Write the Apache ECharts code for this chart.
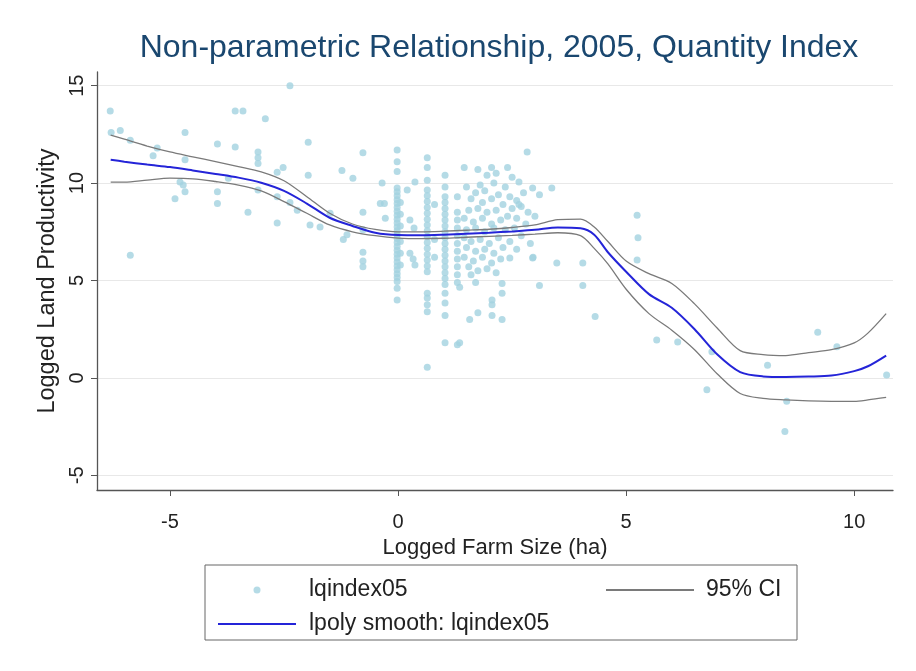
<!DOCTYPE html>
<html>
<head>
<meta charset="utf-8">
<script src="https://cdn.jsdelivr.net/npm/echarts@6/dist/echarts.min.js"></script>
<style>html,body{margin:0;padding:0;background:#fff;}#c{width:916px;height:671px;}</style>
</head>
<body>
<div id="c"></div>
<script>
const titleText = 'Non-parametric Relationship, 2005, Quantity Index';
const xName = 'Logged Farm Size (ha)';
const yName = 'Logged Land Productivity';
const xTicks = [-5, 0, 5, 10];
const yTicks = [-5, 0, 5, 10, 15];
const scatterName = 'lqindex05';
const smoothName = 'lpoly smooth: lqindex05';
const ciName = '95% CI';

// scatter observations [logged farm size, logged land productivity]
const pointsLeft = [
  [-6.31,13.7],[-6.29,12.6],[-6.09,12.7],[-5.87,12.2],[-5.87,6.3],[-5.28,11.8],[-5.37,11.4],
  [-4.67,12.6],[-4.67,11.2],[-4.78,10.05],[-4.71,9.9],[-4.67,9.55],[-4.89,9.2],
  [-3.96,12.0],[-3.96,9.55],[-3.96,8.95],[-3.72,10.25],[-3.57,11.85],[-3.57,13.7],[-3.4,13.7],
  [-3.29,8.5],[-3.07,11.6],[-3.07,11.3],[-3.07,11.0],[-3.07,9.65],[-2.91,13.3],
  [-2.65,10.55],[-2.52,10.8],[-2.65,9.3],[-2.65,7.95],[-2.37,15.0],[-2.37,9.0],[-2.21,8.6],
  [-1.97,12.1],[-1.97,10.4],[-1.93,7.85],[-1.71,7.75],[-1.49,8.45],[-1.23,10.65],[-1.2,7.1],
  [-1.12,7.35],[-0.99,10.25],[-0.77,11.55],[-0.77,8.5],[-0.77,7.6],[-0.77,6.45],[-0.77,6.0],
  [-0.77,5.7],[-0.35,10.0],[-0.39,8.95],[-0.3,8.95],[-0.28,8.2]
];
const pointsCluster = [
  [-0.02,11.7],[-0.02,11.1],[-0.02,10.6],[-0.02,9.75],[-0.02,9.55],[-0.02,9.35],[-0.02,9.15],
  [-0.02,8.95],[-0.02,8.75],[-0.02,8.55],[-0.02,8.35],[-0.02,8.15],[-0.02,7.95],[-0.02,7.75],
  [-0.02,7.55],[-0.02,7.35],[-0.02,7.15],[-0.02,6.95],[-0.02,6.75],[-0.02,6.55],[-0.02,6.35],
  [-0.02,6.15],[-0.02,5.95],[-0.02,5.75],[-0.02,5.55],[-0.02,5.35],[-0.02,5.15],[-0.02,4.95],
  [-0.02,4.6],[-0.02,4.0],[0.05,9.0],[0.05,8.4],[0.05,7.8],[0.05,7.0],[0.05,6.4],[0.05,5.8],
  [0.2,9.65],[0.37,10.05],[0.26,8.1],[0.35,7.7],[0.26,6.4],[0.37,5.8],[0.33,6.1],
  [0.64,11.3],[0.64,10.8],[0.64,10.15],[0.64,9.65],[0.64,9.35],[0.64,9.05],[0.64,8.75],
  [0.64,8.45],[0.64,8.15],[0.64,7.85],[0.64,7.55],[0.64,7.25],[0.64,6.95],[0.64,6.65],
  [0.64,6.35],[0.64,6.05],[0.64,5.75],[0.64,5.45],[0.64,4.35],[0.64,4.1],[0.64,3.75],
  [0.64,3.4],[0.64,0.55],[0.8,8.9],[0.8,7.1],[0.8,6.2],
  [1.03,10.4],[1.03,9.8],[1.03,9.3],[1.03,9.0],[1.03,8.7],[1.03,8.4],[1.03,8.1],[1.03,7.8],
  [1.03,7.5],[1.03,7.2],[1.03,6.9],[1.03,6.6],[1.03,6.3],[1.03,6.0],[1.03,5.7],[1.03,5.4],
  [1.03,5.1],[1.03,4.8],[1.03,4.35],[1.03,3.85],[1.03,3.2],[1.03,1.8],
  [1.3,9.3],[1.3,8.5],[1.3,8.1],[1.3,7.7],[1.3,7.3],[1.3,6.9],[1.3,6.5],[1.3,6.1],[1.3,5.7],
  [1.3,5.3],[1.3,4.9],[1.3,1.7],
  [1.45,10.8],[1.75,10.7],[2.05,10.8],[2.4,10.8],[1.95,10.4],[2.15,10.5],[2.5,10.3],[2.65,10.05],
  [1.5,9.8],[1.8,9.9],[2.1,10.0],[2.35,9.8],[2.75,9.5],[2.95,9.75],[1.7,9.5],[1.9,9.6],[2.2,9.4],
  [2.45,9.3],[2.6,9.1],[1.6,9.2],[1.85,9.0],[2.05,9.2],[2.3,8.9],[2.5,8.7],[2.7,8.8],[1.55,8.6],
  [1.75,8.7],[1.95,8.5],[2.15,8.6],[2.4,8.3],[2.6,8.2],[1.45,8.2],[1.65,8.0],[1.85,8.2],[2.05,7.9],
  [2.25,8.1],[1.5,7.6],[1.7,7.7],[1.9,7.5],[2.1,7.7],[2.35,7.6],[2.55,7.7],[2.8,7.9],[1.45,7.2],
  [1.6,7.0],[1.8,7.1],[2.0,6.9],[2.2,7.2],[2.45,7.0],[1.5,6.7],[1.7,6.5],[1.9,6.6],[2.1,6.4],
  [2.3,6.7],[1.45,6.2],[1.65,6.0],[1.85,6.2],[2.05,5.9],[2.25,6.1],[1.55,5.7],[1.75,5.5],
  [1.95,5.6],[2.15,5.4],[1.6,5.3],[2.65,8.9],[2.85,8.5],[3.0,8.3],[2.7,7.3],[2.9,6.9],[2.6,6.6],
  [2.83,11.6],[3.37,9.75],[3.1,9.4],[2.96,6.2],[2.45,6.15],[2.95,6.15],[1.7,4.9],[1.35,4.65],
  [2.28,4.85],[2.28,4.35],[3.1,4.75],[2.06,4.0],[2.06,3.75],[1.75,3.35],[1.57,3.0],[2.06,3.2],
  [2.28,3.0],[1.35,1.8]
];
const pointsRight = [
  [3.48,5.9],[4.05,5.9],[4.05,4.75],[4.32,3.15],[5.24,8.35],[5.26,7.2],[5.24,6.05],
  [5.67,1.95],[6.13,1.85],[6.88,1.35],[6.77,-0.6],[8.1,0.65],[8.52,-1.2],[8.48,-2.75],
  [9.2,2.35],[9.62,1.6],[10.71,0.15]
];

// local polynomial smooth and its confidence band
const lineX  = [-6.3,-6,-5.5,-5,-4.5,-4,-3.5,-3,-2.5,-2,-1.5,-1,-0.5,0,0.5,1,1.5,2,2.5,3,3.5,4,4.3,4.6,5,5.5,6,6.5,7,7.5,8,8.5,9,9.5,10,10.3,10.7];
const smoothY = [11.2,11.1,10.95,10.82,10.65,10.47,10.28,10.02,9.6,8.95,8.22,7.8,7.45,7.33,7.32,7.35,7.4,7.45,7.52,7.6,7.72,7.68,7.35,6.45,5.45,4.3,3.6,2.5,1.2,0.3,0.08,0.05,0.07,0.12,0.35,0.6,1.15];
const upperY  = [12.46,12.25,11.9,11.6,11.35,11.1,10.85,10.58,10.12,9.3,8.45,7.9,7.62,7.5,7.5,7.53,7.58,7.63,7.72,7.85,8.12,8.15,7.75,7.0,6.0,5.35,4.85,3.8,2.55,1.4,1.2,1.15,1.3,1.45,1.8,2.3,3.3];
const lowerY  = [10.05,10.05,10.15,10.25,10.22,10.08,9.9,9.6,9.05,8.45,7.85,7.5,7.3,7.18,7.15,7.17,7.22,7.27,7.32,7.38,7.45,7.3,6.65,5.85,4.55,3.3,2.45,1.45,0.2,-0.8,-1.05,-1.13,-1.18,-1.2,-1.2,-1.13,-1.0];

const pair = ys => lineX.map((x, i) => [x, ys[i]]);
const FONT = '"Liberation Sans", Arial, Helvetica, sans-serif';

const chart = echarts.init(document.getElementById('c'), null, {renderer: 'canvas'});
chart.setOption({
  backgroundColor: '#ffffff',
  animation: false,
  textStyle: {fontFamily: FONT},
  grid: {left: 97, right: 23, top: 72, bottom: 181, containLabel: false},
  xAxis: {
    type: 'value', min: -6.6, max: 10.85,
    name: xName, nameLocation: 'middle', nameGap: 45,
    nameTextStyle: {fontSize: 22, color: '#222', fontFamily: FONT},
    axisLine: {show: true, onZero: false, lineStyle: {color: '#555', width: 1.3}},
    axisTick: {show: true, length: 6, customValues: xTicks, lineStyle: {color: '#555'}},
    axisLabel: {customValues: xTicks, fontSize: 20, color: '#222', margin: 22, fontFamily: FONT},
    splitLine: {show: false}
  },
  yAxis: {
    type: 'value', min: -5.75, max: 15.7,
    name: yName, nameLocation: 'middle', nameGap: 34,
    nameTextStyle: {fontSize: 23.5, color: '#222', fontFamily: FONT},
    axisLine: {show: true, onZero: false, lineStyle: {color: '#555', width: 1.3}},
    axisTick: {show: true, length: 6, customValues: yTicks, lineStyle: {color: '#555'}},
    axisLabel: {customValues: yTicks, rotate: 90, fontSize: 20, color: '#222', margin: 10, fontFamily: FONT},
    splitLine: {show: true, lineStyle: {color: '#e8e8e8', width: 1}}
  },
  legend: [
    {
      left: 212, top: 573, orient: 'vertical', itemWidth: 78, itemHeight: 7, itemGap: 10,
      data: [scatterName, {name: smoothName, itemStyle: {opacity: 0}}],
      textStyle: {fontSize: 23, color: '#222', lineHeight: 24, padding: [0,0,0,8], fontFamily: FONT}
    },
    {
      left: 600, top: 573, orient: 'vertical', itemWidth: 88, itemHeight: 7,
      data: [{name: ciName, itemStyle: {opacity: 0}}],
      textStyle: {fontSize: 23, color: '#222', lineHeight: 24, padding: [0,0,0,7], fontFamily: FONT}
    }
  ],
  graphic: [
    {type: 'text', x: 499, y: 32, style: {text: titleText, align: 'center', verticalAlign: 'top', fill: '#1a476f', font: '32px ' + FONT}},
    {type: 'rect', shape: {x: 205, y: 565, width: 592, height: 75}, style: {fill: 'none', stroke: '#666', lineWidth: 1}, silent: true}
  ],
  series: [
    {name: scatterName, type: 'scatter', symbol: 'circle', symbolSize: 7,
     itemStyle: {color: '#a2d2e0'}, data: pointsLeft.concat(pointsCluster, pointsRight), z: 2},
    {name: ciName, type: 'line', data: pair(upperY), symbol: 'none', smooth: 0.3,
     lineStyle: {color: '#7a7a7a', width: 1.3}, z: 3},
    {name: ciName, type: 'line', data: pair(lowerY), symbol: 'none', smooth: 0.3,
     lineStyle: {color: '#7a7a7a', width: 1.3}, z: 3},
    {name: smoothName, type: 'line', data: pair(smoothY), symbol: 'none', smooth: 0.3,
     lineStyle: {color: '#2424d8', width: 2}, itemStyle: {color: '#2424d8'}, z: 4}
  ]
});
</script>
</body>
</html>
